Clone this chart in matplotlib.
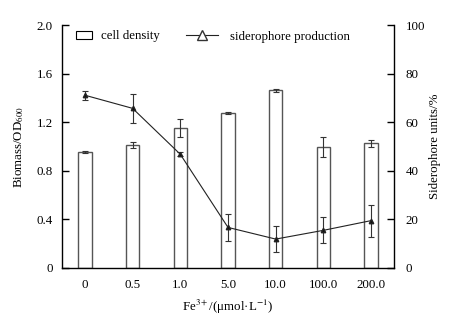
import matplotlib
matplotlib.use("Agg")
import matplotlib.pyplot as plt
from matplotlib.lines import Line2D
from matplotlib.patches import Patch
import numpy as np

plt.rcParams['font.family'] = ['Liberation Serif', 'DejaVu Serif']
plt.rcParams['mathtext.fontset'] = 'stix'

categories = ["0", "0.5", "1.0", "5.0", "10.0", "100.0", "200.0"]
cell_density = [0.955, 1.012, 1.155, 1.278, 1.462, 0.996, 1.026]
cell_density_err = [0.01, 0.027, 0.074, 0.01, 0.01, 0.08, 0.03]
siderophore = [71.1, 65.7, 46.8, 16.7, 11.9, 15.5, 19.5]
siderophore_err = [1.9, 6.0, 0.8, 5.5, 5.5, 5.3, 6.6]

FS = 9.3
W, H = 462, 319
fig = plt.figure(figsize=(W/100, H/100), dpi=100)
ax = fig.add_axes([62/W, 1-268/H, (394-62)/W, (268-25)/H])
x = np.arange(len(categories))

ax.bar(x, cell_density, width=0.28, color='white', edgecolor='#555555', linewidth=1.0,
       yerr=cell_density_err, error_kw=dict(ecolor='#333333', elinewidth=0.8, capsize=2, capthick=0.8))
ax.set_xlim(-0.48, 6.48)
ax.set_ylim(0, 2.0)
ax.set_yticks([0, 0.4, 0.8, 1.2, 1.6, 2.0])
ax.set_yticklabels(["0", "0.4", "0.8", "1.2", "1.6", "2.0"])
ax.set_xticks(x)
ax.set_xticklabels(categories)
ax.tick_params(axis='x', length=0, pad=8, labelsize=FS)
ax.tick_params(axis='y', direction='in', length=5, width=1, labelsize=FS, pad=6.5)
ax.spines['top'].set_visible(False)
ax.spines['right'].set_visible(False)
for s in ['left', 'bottom']:
    ax.spines[s].set_linewidth(1)
ax.set_ylabel("Biomass/OD$_{600}$", fontsize=FS, labelpad=8)
ax.set_xlabel("Fe$^{3+}$/(μmol·L$^{-1}$)", fontsize=FS, labelpad=5)

ax2 = ax.twinx()
ax2.errorbar(x, siderophore, yerr=siderophore_err, color='#222222', linewidth=0.8,
             marker='^', markersize=3.2, markerfacecolor='#111111',
             ecolor='#333333', elinewidth=0.8, capsize=2, capthick=0.8)
ax2.set_ylim(0, 100)
ax2.set_yticks([0, 20, 40, 60, 80, 100])
ax2.tick_params(axis='y', direction='in', length=5, width=1, labelsize=FS, pad=8.5)
ax2.spines['top'].set_visible(False)
ax2.spines['left'].set_visible(False)
ax2.spines['bottom'].set_visible(False)
ax2.spines['right'].set_linewidth(1)
ax2.set_ylabel("Siderophore units/%", fontsize=FS, labelpad=3)

px = FS * 100 / 72.0  # font size in pixels
leg_y = 1 - 36.5/H
h1 = [Patch(facecolor='white', edgecolor='black', linewidth=0.8)]
leg1 = fig.legend(h1, ["cell density"], loc='center left',
                  bbox_to_anchor=(76/W, leg_y), bbox_transform=fig.transFigure,
                  frameon=False, fontsize=FS, borderpad=0, borderaxespad=0,
                  handlelength=16/px, handleheight=0.55, handletextpad=9/px)
h2 = [Line2D([0], [0], color='#222222', linewidth=0.8, marker='^', markersize=6.5,
             markerfacecolor='white', markeredgecolor='#333333')]
leg2 = fig.legend(h2, ["siderophore production"], loc='center left',
                  bbox_to_anchor=(186/W, leg_y), bbox_transform=fig.transFigure,
                  frameon=False, fontsize=FS, borderpad=0, borderaxespad=0,
                  handlelength=32/px, handletextpad=12/px)

fig.savefig("out.png", dpi=100)
